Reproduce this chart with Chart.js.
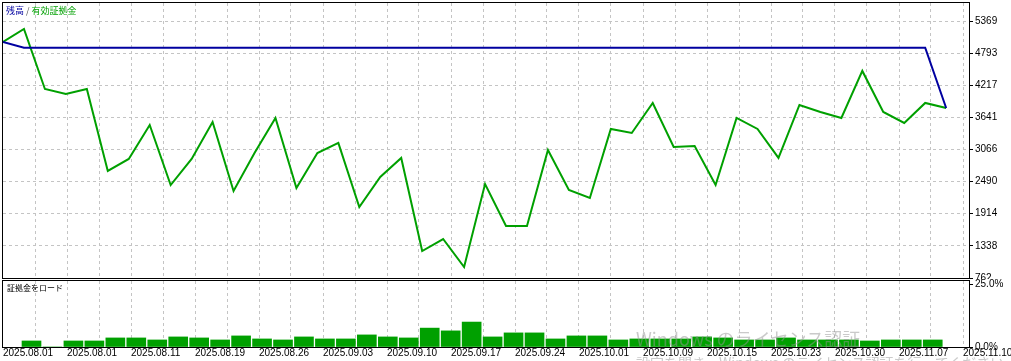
<!DOCTYPE html>
<html lang="ja">
<head>
    <meta charset="UTF-8">
    <title>残高 / 有効証拠金</title>
    <script src="https://cdn.jsdelivr.net/npm/chart.js"></script>
    <style>
        * {
            margin: 0;
            padding: 0;
            box-sizing: border-box;
        }
        body {
            background: #fff;
            width: 1011px;
            height: 361px;
            position: relative;
            overflow: hidden;
        }
        canvas {
            position: absolute;
            left: 0;
        }
        #balanceChart { top: 0; }
        #loadChart { top: 279px; }
        .caption {
            position: absolute;
            font-family: "Noto Sans CJK JP", sans-serif;
            line-height: 1;
            white-space: nowrap;
        }
        .caption.main { left: 6px; top: 6px; font-size: 9px; }
        .caption.load { left: 7px; top: 284px; font-size: 8px; color: #000; }
        .blue { color: #0000a0; }
        .green { color: #00a000; }
        .slash { color: #555; }
        .watermark {
            position: absolute;
            left: 636px;
            font-family: "Noto Sans CJK JP", sans-serif;
            color: rgba(150, 150, 150, 0.5);
            white-space: nowrap;
            line-height: 1;
            pointer-events: none;
        }
        .watermark.big { top: 329px; font-size: 18px; }
        .watermark.small { top: 355px; font-size: 14px; }
    </style>
</head>
<body>
    <canvas id="balanceChart" width="1011" height="279"></canvas>
    <canvas id="loadChart" width="1011" height="82"></canvas>
    <div class="caption main"><span class="blue">残高</span> <span class="slash">/</span> <span class="green">有効証拠金</span></div>
    <div class="caption load">証拠金をロード</div>
    <div class="watermark big">Windows のライセンス認証</div>
    <div class="watermark small">設定を開き、Windows のライセンス認証を行ってください。</div>
<script>
    // date labels sit on every other grid line
    const dateLabels = ['2025.08.01', '2025.08.01', '2025.08.11', '2025.08.19', '2025.08.26',
        '2025.09.03', '2025.09.10', '2025.09.17', '2025.09.24', '2025.10.01',
        '2025.10.09', '2025.10.15', '2025.10.23', '2025.10.30', '2025.11.07', '2025.11.10'];
    const balanceTicks = [762, 1338, 1914, 2490, 3066, 3641, 4217, 4793, 5369];
    const loadTicks = [0, 25];

    // one value per deal
    const balance = [4993, 4891, 4891, 4891, 4891, 4891, 4891, 4891, 4891, 4891,
        4891, 4891, 4891, 4891, 4891, 4891, 4891, 4891, 4891, 4891,
        4891, 4891, 4891, 4891, 4891, 4891, 4891, 4891, 4891, 4891,
        4891, 4891, 4891, 4891, 4891, 4891, 4891, 4891, 4891, 4891,
        4891, 4891, 4891, 4891, 4891, 3810];
    const equity = [4993, 5227, 4151, 4061, 4151, 2681, 2896, 3505, 2429, 2896,
        3559, 2322, 3003, 3631, 2376, 3003, 3183, 2035, 2573, 2914,
        1246, 1461, 959, 2447, 1694, 1694, 3057, 2340, 2196, 3434,
        3362, 3900, 3111, 3129, 2429, 3631, 3434, 2914, 3864, 3738,
        3631, 4474, 3738, 3541, 3900, 3810];
    // margin load in %, one bar per interval
    const marginLoad = [2.4, 0, 2.4, 2.4, 3.6, 3.6, 2.8, 4.0, 3.6, 2.8,
        4.4, 3.2, 2.8, 4.0, 3.2, 3.2, 4.8, 4.0, 3.6, 7.5,
        6.4, 9.9, 4.0, 5.6, 5.6, 3.2, 4.4, 4.4, 2.8, 3.2,
        3.2, 3.2, 4.0, 3.6, 2.8, 2.8, 3.6, 2.8, 2.8, 2.8,
        2.4, 2.8, 2.8, 2.8];

    const BLUE = '#0000a0';
    const GREEN = '#00a000';
    const GRID = '#c4c4c4';
    const xMax = 46.09;               // axis runs a bit past the last deal
    const gridStep = xMax * 32 / 966; // a dashed line every 32px
    const barShift = 1.36;            // bars sit between the deal points
    const tickFont = { family: 'Liberation Sans', size: 10 };

    function dateTicks(scale) {
        const ticks = [];
        for (let k = 0; k * gridStep <= xMax; k++) ticks.push({ value: k * gridStep });
        scale.ticks = ticks;
    }

    // black box round the plot area
    const frame = {
        id: 'frame',
        afterDatasetsDraw(chart) {
            const { ctx, chartArea: a } = chart;
            ctx.save();
            ctx.strokeStyle = '#000';
            ctx.lineWidth = 1;
            ctx.strokeRect(Math.round(a.left) - 0.5, Math.round(a.top) - 0.5,
                Math.round(a.right - a.left) + 1, Math.round(a.bottom - a.top) + 1);
            ctx.restore();
        }
    };

    const gridColor = c => c.index === 0 ? 'transparent' : GRID;

    new Chart(document.getElementById('balanceChart'), {
        type: 'line',
        data: {
            datasets: [
                {
                    label: '残高',
                    data: balance.map((v, i) => ({ x: i, y: v })),
                    borderColor: BLUE,
                    borderWidth: 2,
                    pointRadius: 0,
                    tension: 0,
                    order: 0
                },
                {
                    label: '有効証拠金',
                    data: equity.map((v, i) => ({ x: i, y: v })),
                    borderColor: GREEN,
                    borderWidth: 2,
                    pointRadius: 0,
                    tension: 0,
                    order: 1
                }
            ]
        },
        options: {
            responsive: false,
            animation: false,
            devicePixelRatio: 1,
            layout: { padding: { left: 3, top: 3, right: 0, bottom: 1 } },
            plugins: { legend: { display: false }, tooltip: { enabled: false } },
            scales: {
                x: {
                    type: 'linear',
                    min: 0,
                    max: xMax,
                    afterBuildTicks: dateTicks,
                    afterFit(s) { s.height = 0; s.paddingLeft = 0; s.paddingRight = 0; },
                    ticks: { display: false, autoSkip: false },
                    grid: { drawTicks: false, color: gridColor },
                    border: { display: false, dash: [3, 3] }
                },
                y: {
                    position: 'right',
                    min: 762,
                    max: 5692,
                    afterBuildTicks(s) { s.ticks = balanceTicks.map(v => ({ value: v })); },
                    afterFit(s) { s.width = 42; s.paddingTop = 0; s.paddingBottom = 0; },
                    ticks: { font: tickFont, color: '#000', padding: 2, callback: v => String(v) },
                    grid: { color: gridColor, tickColor: '#000', tickLength: 4 },
                    border: { display: false, dash: [3, 3] }
                }
            }
        },
        plugins: [frame]
    });

    new Chart(document.getElementById('loadChart'), {
        type: 'bar',
        data: {
            datasets: [{
                label: '証拠金をロード',
                data: marginLoad.map((v, m) => ({ x: m + barShift, y: v })),
                backgroundColor: GREEN,
                borderWidth: 0,
                barThickness: 19
            }]
        },
        options: {
            responsive: false,
            animation: false,
            devicePixelRatio: 1,
            layout: { padding: { left: 3, top: 2, right: 0, bottom: 0 } },
            plugins: { legend: { display: false }, tooltip: { enabled: false } },
            scales: {
                x: {
                    type: 'linear',
                    min: 0,
                    max: xMax,
                    offset: false,
                    afterBuildTicks: dateTicks,
                    afterFit(s) { s.height = 14; s.paddingLeft = 0; s.paddingRight = 0; },
                    ticks: {
                        font: tickFont,
                        color: '#000',
                        padding: 0,
                        align: 'start',
                        autoSkip: false,
                        maxRotation: 0,
                        minRotation: 0,
                        callback: (v, k) => k % 2 === 0 ? dateLabels[k / 2] : ''
                    },
                    grid: { offset: false, color: gridColor, drawTicks: false },
                    border: { display: false, dash: [3, 3] }
                },
                y: {
                    position: 'right',
                    min: 0,
                    max: 26.2,
                    afterBuildTicks(s) { s.ticks = loadTicks.map(v => ({ value: v })); },
                    afterFit(s) { s.width = 42; s.paddingTop = 0; s.paddingBottom = 0; },
                    ticks: { font: tickFont, color: '#000', padding: 2, callback: v => v.toFixed(1) + '%' },
                    grid: { drawOnChartArea: false, tickColor: '#000', tickLength: 4 },
                    border: { display: false }
                }
            }
        },
        plugins: [frame]
    });
</script>
</body>
</html>
